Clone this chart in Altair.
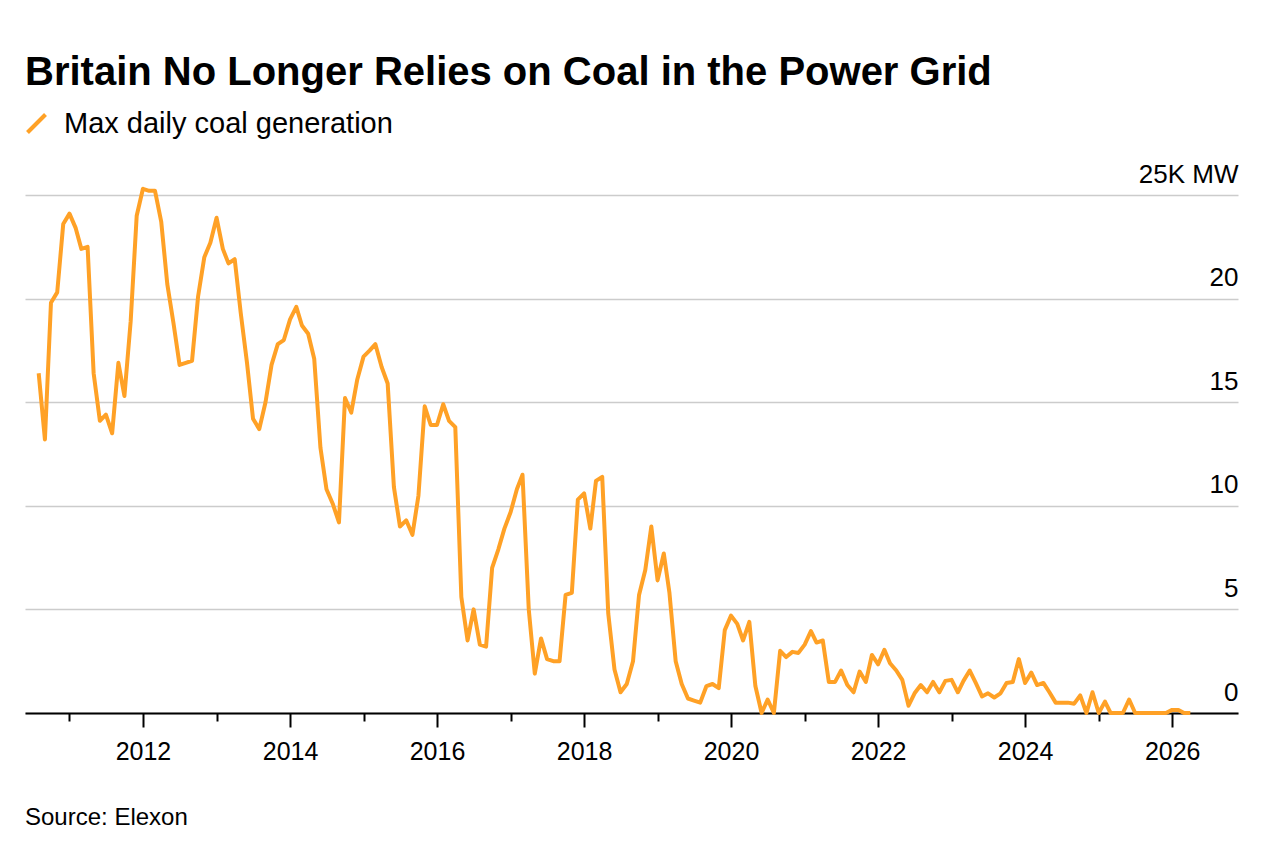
import altair as alt
import pandas as pd

TITLE = "Britain No Longer Relies on Coal in the Power Grid"
SERIES = "Max daily coal generation"
SOURCE = "Source: Elexon"
ORANGE = "#ffa126"
FONT = "Liberation Sans"

# Monthly max daily coal generation, thousand MW (first month: Aug 2010)
start_month = "2010-08-01"
v2010 = [16.4, 13.2, 19.8, 20.3, 23.6]
v2011 = [24.1, 23.4, 22.4, 22.5, 16.4, 14.1, 14.4, 13.5, 16.9, 15.3, 18.9, 24.0]
v2012 = [25.3, 25.2, 25.2, 23.7, 20.7, 18.8, 16.8, 16.9, 17.0, 20.1, 22.0, 22.7]
v2013 = [23.9, 22.4, 21.7, 21.9, 19.3, 16.9, 14.2, 13.7, 15.0, 16.8, 17.8, 18.0]
v2014 = [19.0, 19.6, 18.7, 18.3, 17.1, 12.8, 10.8, 10.1, 9.2, 15.2, 14.5, 16.1]
v2015 = [17.2, 17.5, 17.8, 16.7, 15.9, 10.9, 9.0, 9.3, 8.6, 10.5, 14.8, 13.9]
v2016 = [13.9, 14.9, 14.1, 13.8, 5.6, 3.5, 5.0, 3.3, 3.2, 7.0, 7.9, 8.9]
v2017 = [9.7, 10.8, 11.5, 5.0, 1.9, 3.6, 2.6, 2.5, 2.5, 5.7, 5.8, 10.3]
v2018 = [10.6, 8.9, 11.2, 11.4, 4.8, 2.1, 1.0, 1.4, 2.5, 5.7, 6.9, 9.0]
v2019 = [6.4, 7.7, 5.8, 2.5, 1.4, 0.7, 0.6, 0.5, 1.3, 1.4, 1.2, 4.0]
v2020 = [4.7, 4.3, 3.5, 4.4, 1.3, 0.0, 0.65, 0.0, 3.0, 2.7, 2.95, 2.9]
v2021 = [3.3, 3.95, 3.4, 3.5, 1.5, 1.5, 2.05, 1.35, 1.0, 2.0, 1.5, 2.8]
v2022 = [2.35, 3.05, 2.4, 2.05, 1.6, 0.35, 0.95, 1.35, 1.0, 1.5, 1.0, 1.55]
v2023 = [1.6, 1.0, 1.55, 2.05, 1.45, 0.8, 0.95, 0.75, 0.95, 1.45, 1.5, 2.6]
v2024 = [1.45, 1.95, 1.35, 1.45, 1.0, 0.5, 0.5, 0.5, 0.45, 0.85, 0.0, 1.0]
v2025 = [0.0, 0.55, 0.0, 0.0, 0.0, 0.65, 0.0, 0.0, 0.0, 0.0, 0.0, 0.0]
v2026 = [0.15, 0.15, 0.0, 0.0]

y_ticks = [0, 5, 10, 15, 20, 25]
tick_years = list(range(2011, 2027))

values = (v2010 + v2011 + v2012 + v2013 + v2014 + v2015 + v2016 + v2017 + v2018
          + v2019 + v2020 + v2021 + v2022 + v2023 + v2024 + v2025 + v2026)
dates = pd.date_range(start_month, periods=len(values), freq="MS")
df = pd.DataFrame({"date": dates, "value": values, "series": SERIES})

W, H = 1213, 518

x_axis = alt.Axis(
    values=[alt.DateTime(year=y, month=1, date=1) for y in tick_years],
    labelExpr="year(datum.value) % 2 == 0 ? timeFormat(datum.value, '%Y') : ''",
    labelFont=FONT, labelFontSize=25, labelColor="black", labelPadding=12,
    labelOverlap=False, labelFlush=False,
    domain=True, domainColor="black", domainWidth=2,
    ticks=True, tickColor="black", tickWidth=2,
    tickSize={"condition": {"test": "year(datum.value) % 2 == 0", "value": 14}, "value": 8},
    grid=False, title=None,
)

y_axis = alt.Axis(
    orient="right", values=y_ticks,
    labelExpr="datum.value == 25 ? '25K MW' : datum.label",
    labelFont=FONT, labelFontSize=26, labelColor="black",
    labelAlign="right", labelBaseline="alphabetic", labelPadding=0, labelOffset=-13,
    domain=False, ticks=False, grid=True, gridColor="#cccccc", gridWidth=1.5,
    title=None,
)

line = alt.Chart(df).mark_line(strokeWidth=4, strokeJoin="round").encode(
    x=alt.X("date:T", scale=alt.Scale(domain=[alt.DateTime(year=2010, month=5, date=25),
                                              alt.DateTime(year=2026, month=11, date=24)]),
            axis=x_axis),
    y=alt.Y("value:Q", scale=alt.Scale(domain=[0, 25], nice=False), axis=y_axis),
    color=alt.Color("series:N", scale=alt.Scale(domain=[SERIES], range=[ORANGE]),
                    legend=alt.Legend(title=None, orient="none", legendX=-3, legendY=-86,
                                      symbolType="M-1,1L1,-1", symbolSize=324,
                                      symbolStrokeWidth=4, labelFont=FONT,
                                      labelFontSize=29, labelColor="black",
                                      labelLimit=0, labelOffset=13, padding=0)),
)

src_df = pd.DataFrame({"text": [SOURCE]})
source = alt.Chart(src_df).mark_text(align="left", baseline="alphabetic", font=FONT,
                                     fontSize=24, color="black").encode(
    x=alt.value(0), y=alt.value(630), text="text:N")

chart = alt.layer(line, source).properties(
    width=W, height=H,
    title=alt.TitleParams(TITLE, anchor="start", frame="group", font=FONT, fontSize=40,
                          fontWeight="bold", color="black", offset=16),
    autosize=alt.AutoSizeParams(type="none"),
    padding={"left": 17, "top": 187, "right": 20, "bottom": 140},
    background="white",
).configure_view(stroke=None)

chart.save("out.html", embed_options={"renderer": "svg", "actions": False})
